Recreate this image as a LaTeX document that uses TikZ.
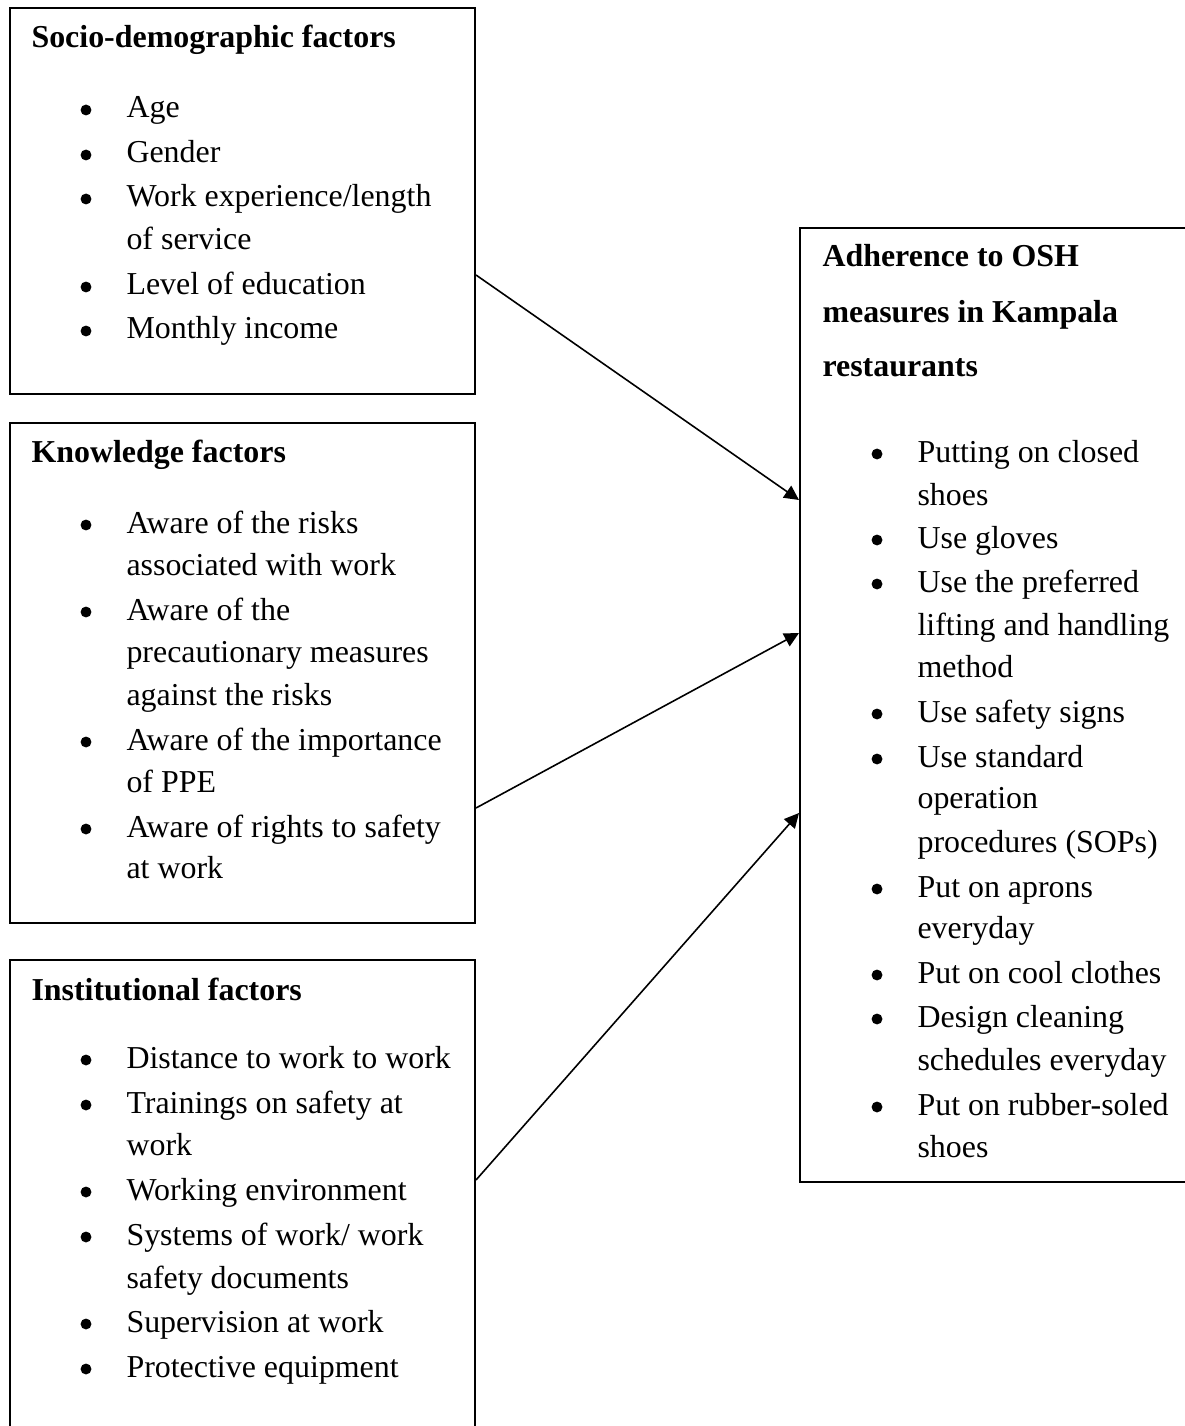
\documentclass[tikz,border=0pt]{standalone}
\usepackage{fontspec}
\setmainfont{Liberation Serif}
\usetikzlibrary{fit,arrows.meta}
\tikzset{
  boxst/.style={draw, line width=0.75pt, inner sep=0pt},
  txt/.style={anchor=base west, inner sep=0pt, font=\fontsize{12pt}{14pt}\selectfont},
  ttl/.style={txt, font=\fontsize{12pt}{14pt}\selectfont\bfseries},
  arr/.style={line width=0.6pt, -{Triangle[length=5.5pt, width=5.4pt]}}
}
% bullet item: name, bullet x, text x, baseline y, text
\newcommand\litem[5]{%
  \fill (#2,#4-8) circle[radius=2.05pt];
  \node[txt] (#1) at (#3,#4) {#5};}
\newcommand\lcont[4]{\node[txt] (#1) at (#2,#3) {#4};}
\begin{document}
\begin{tikzpicture}[x=0.376pt, y=-0.376pt]
\useasboundingbox (0,0) rectangle (1185,1426);
\clip (0,0) rectangle (1185,1426);
\fill[white] (0,0) rectangle (1185,1426);

% boxes
\node[boxst, fit={(10,8) (475,394)}] (b1) {};
\node[boxst, fit={(10,423) (475,923)}] (b2) {};
\node[boxst, fit={(10,960) (475,1500)}] (b3) {};
\node[boxst, fit={(800,228) (1250,1182)}] (b4) {};

% box 1
\node[ttl] (t1) at (31,48) {Socio-demographic factors};
\litem{a1}{86}{126}{118}{Age}
\litem{a2}{86}{126}{163}{Gender}
\litem{a3}{86}{126}{207}{Work experience/length}
\lcont{a3b}{126}{250}{of service}
\litem{a4}{86}{126}{295}{Level of education}
\litem{a5}{86}{126}{339}{Monthly income}

% box 2
\node[ttl] (t2) at (31,462) {Knowledge factors};
\litem{k1}{86}{126}{533}{Aware of the risks}
\lcont{k1b}{126}{575}{associated with work}
\litem{k2}{86}{126}{620}{Aware of the}
\lcont{k2b}{126}{662}{precautionary measures}
\lcont{k2c}{126}{705}{against the risks}
\litem{k3}{86}{126}{750}{Aware of the importance}
\lcont{k3b}{126}{792}{of PPE}
\litem{k4}{86}{126}{837}{Aware of rights to safety}
\lcont{k4b}{126}{878}{at work}

% box 3
\node[ttl] (t3) at (31,1000) {Institutional factors};
\litem{i1}{86}{126}{1068}{Distance to work to work}
\litem{i2}{86}{126}{1113}{Trainings on safety at}
\lcont{i2b}{126}{1155}{work}
\litem{i3}{86}{126}{1200}{Working environment}
\litem{i4}{86}{126}{1245}{Systems of work/ work}
\lcont{i4b}{126}{1288}{safety documents}
\litem{i5}{86}{126}{1332}{Supervision at work}
\litem{i6}{86}{126}{1377}{Protective equipment}

% box 4
\node[ttl] (t4a) at (822,267) {Adherence to OSH};
\node[ttl] (t4b) at (822,323) {measures in Kampala};
\node[ttl] (t4c) at (822,377) {restaurants};
\litem{o1}{877}{917}{462}{Putting on closed}
\lcont{o1b}{917}{505}{shoes}
\litem{o2}{877}{917}{548}{Use gloves}
\litem{o3}{877}{917}{592}{Use the preferred}
\lcont{o3b}{917}{635}{lifting and handling}
\lcont{o3c}{917}{677}{method}
\litem{o4}{877}{917}{722}{Use safety signs}
\litem{o5}{877}{917}{767}{Use standard}
\lcont{o5b}{917}{808}{operation}
\lcont{o5c}{917}{852}{procedures (SOPs)}
\litem{o6}{877}{917}{897}{Put on aprons}
\lcont{o6b}{917}{938}{everyday}
\litem{o7}{877}{917}{983}{Put on cool clothes}
\litem{o8}{877}{917}{1027}{Design cleaning}
\lcont{o8b}{917}{1070}{schedules everyday}
\litem{o9}{877}{917}{1115}{Put on rubber-soled}
\lcont{o9b}{917}{1157}{shoes}

% arrows
\draw[arr] (b1.east |- 0,275) -- (b4.west |- 0,500);
\draw[arr] (b2.east |- 0,808) -- (b4.west |- 0,633);
\draw[arr] (b3.east |- 0,1180) -- (b4.west |- 0,813);
\end{tikzpicture}
\end{document}
